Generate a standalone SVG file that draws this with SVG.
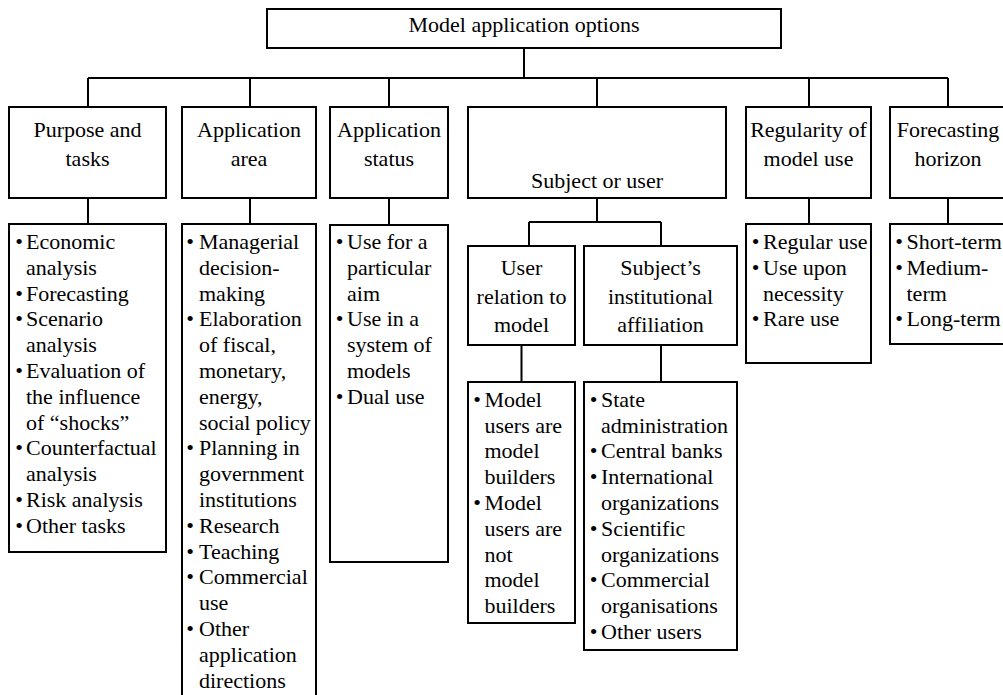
<svg xmlns="http://www.w3.org/2000/svg" width="1003" height="695" viewBox="0 0 1003 695" style="font-family: 'Liberation Serif', serif; font-size: 22px;">
  <style>
    svg text, g text { font-family: 'Liberation Serif', serif !important; font-size: 22px; fill: #000; }
    .box { fill: #fff; stroke: #000; stroke-width: 2; }
    .wire { fill: none; stroke: #000; stroke-width: 2; }
    .c { text-anchor: middle; }
    .bul { text-anchor: middle; }
  </style>
  <rect width="1003" height="695" fill="#fff"/>

  <!-- tree connectors -->
  <g id="connectors" class="wire">
    <path d="M524 48 V78 M88 78 H948"/>
    <path d="M88 78 V107 M250 78 V107 M389 78 V107 M597 78 V107 M809 78 V107 M948 78 V107"/>
    <path d="M88 198 V224 M250 198 V224 M389 198 V225 M809 198 V224 M948 198 V224"/>
    <path d="M597 198 V222 M529 222 H661 M529 222 V246 M661 222 V246"/>
    <path d="M521.5 345 V382 M661 345 V382"/>
  </g>

  <!-- top node -->
  <g id="options" font-family="Liberation Serif, serif">
    <rect class="box" x="267" y="9" width="514" height="39"/>
    <text class="c" x="524" y="32">Model application options</text>
  </g>

  <!-- first level categories -->
  <g id="purpose" font-family="Liberation Serif, serif">
    <rect class="box" x="9" y="107" width="157" height="91"/>
    <text class="c" x="87.5" y="137">Purpose and</text>
    <text class="c" x="87.5" y="166">tasks</text>
  </g>
  <g id="area" font-family="Liberation Serif, serif">
    <rect class="box" x="182" y="107" width="134" height="91"/>
    <text class="c" x="249" y="137">Application</text>
    <text class="c" x="249" y="166">area</text>
  </g>
  <g id="status" font-family="Liberation Serif, serif">
    <rect class="box" x="330" y="107" width="118" height="91"/>
    <text class="c" x="389" y="137">Application</text>
    <text class="c" x="389" y="166">status</text>
  </g>
  <g id="subject" font-family="Liberation Serif, serif">
    <rect class="box" x="468" y="107" width="258" height="91"/>
    <text class="c" x="597" y="187.5">Subject or user</text>
  </g>
  <g id="regularity" font-family="Liberation Serif, serif">
    <rect class="box" x="746" y="107" width="125" height="91"/>
    <text class="c" x="808.5" y="137">Regularity of</text>
    <text class="c" x="808.5" y="166">model use</text>
  </g>
  <g id="horizon" font-family="Liberation Serif, serif">
    <rect class="box" x="890" y="107" width="116" height="91"/>
    <text class="c" x="948" y="137">Forecasting</text>
    <text class="c" x="948" y="166">horizon</text>
  </g>

  <!-- subject / user sub-categories -->
  <g id="user-relation" font-family="Liberation Serif, serif">
    <rect class="box" x="468" y="246" width="107" height="99"/>
    <text class="c" x="521.5" y="275">User</text>
    <text class="c" x="521.5" y="304">relation to</text>
    <text class="c" x="521.5" y="332">model</text>
  </g>
  <g id="affiliation" font-family="Liberation Serif, serif">
    <rect class="box" x="584" y="246" width="153" height="99"/>
    <text class="c" x="660.5" y="275">Subject&#8217;s</text>
    <text class="c" x="660.5" y="304">institutional</text>
    <text class="c" x="660.5" y="332">affiliation</text>
  </g>

  <!-- item lists -->
  <g id="purpose-list" font-family="Liberation Serif, serif">
    <rect class="box" x="9" y="224" width="157" height="328"/>
    <text class="bul" x="19" y="249">&#8226;</text><text x="26" y="249">Economic</text>
    <text x="26" y="274.8">analysis</text>
    <text class="bul" x="19" y="300.6">&#8226;</text><text x="26" y="300.6">Forecasting</text>
    <text class="bul" x="19" y="326.4">&#8226;</text><text x="26" y="326.4">Scenario</text>
    <text x="26" y="352.2">analysis</text>
    <text class="bul" x="19" y="378">&#8226;</text><text x="26" y="378">Evaluation of</text>
    <text x="26" y="403.8">the influence</text>
    <text x="26" y="429.6">of &#8220;shocks&#8221;</text>
    <text class="bul" x="19" y="455.4">&#8226;</text><text x="26" y="455.4">Counterfactual</text>
    <text x="26" y="481.2">analysis</text>
    <text class="bul" x="19" y="507">&#8226;</text><text x="26" y="507">Risk analysis</text>
    <text class="bul" x="19" y="532.8">&#8226;</text><text x="26" y="532.8">Other tasks</text>
  </g>
  <g id="area-list" font-family="Liberation Serif, serif">
    <rect class="box" x="182" y="224" width="134" height="480"/>
    <text class="bul" x="190" y="249">&#8226;</text><text x="199" y="249">Managerial</text>
    <text x="199" y="274.8">decision-</text>
    <text x="199" y="300.6">making</text>
    <text class="bul" x="190" y="326.4">&#8226;</text><text x="199" y="326.4">Elaboration</text>
    <text x="199" y="352.2">of fiscal,</text>
    <text x="199" y="378">monetary,</text>
    <text x="199" y="403.8">energy,</text>
    <text x="199" y="429.6">social policy</text>
    <text class="bul" x="190" y="455.4">&#8226;</text><text x="199" y="455.4">Planning in</text>
    <text x="199" y="481.2">government</text>
    <text x="199" y="507">institutions</text>
    <text class="bul" x="190" y="532.8">&#8226;</text><text x="199" y="532.8">Research</text>
    <text class="bul" x="190" y="558.6">&#8226;</text><text x="199" y="558.6">Teaching</text>
    <text class="bul" x="190" y="584.4">&#8226;</text><text x="199" y="584.4">Commercial</text>
    <text x="199" y="610.2">use</text>
    <text class="bul" x="190" y="636">&#8226;</text><text x="199" y="636">Other</text>
    <text x="199" y="661.8">application</text>
    <text x="199" y="687.6">directions</text>
  </g>
  <g id="status-list" font-family="Liberation Serif, serif">
    <rect class="box" x="330" y="225" width="118" height="337"/>
    <text class="bul" x="339.5" y="249">&#8226;</text><text x="347" y="249">Use for a</text>
    <text x="347" y="274.8">particular</text>
    <text x="347" y="300.6">aim</text>
    <text class="bul" x="339.5" y="326.4">&#8226;</text><text x="347" y="326.4">Use in a</text>
    <text x="347" y="352.2">system of</text>
    <text x="347" y="378">models</text>
    <text class="bul" x="339.5" y="403.8">&#8226;</text><text x="347" y="403.8">Dual use</text>
  </g>
  <g id="user-relation-list" font-family="Liberation Serif, serif">
    <rect class="box" x="468" y="382" width="107" height="241"/>
    <text class="bul" x="477" y="406.7">&#8226;</text><text x="484.5" y="406.7">Model</text>
    <text x="484.5" y="432.5">users are</text>
    <text x="484.5" y="458.3">model</text>
    <text x="484.5" y="484.1">builders</text>
    <text class="bul" x="477" y="509.9">&#8226;</text><text x="484.5" y="509.9">Model</text>
    <text x="484.5" y="535.7">users are</text>
    <text x="484.5" y="561.5">not</text>
    <text x="484.5" y="587.3">model</text>
    <text x="484.5" y="613.1">builders</text>
  </g>
  <g id="affiliation-list" font-family="Liberation Serif, serif">
    <rect class="box" x="584" y="382" width="153" height="268"/>
    <text class="bul" x="593.5" y="406.7">&#8226;</text><text x="601" y="406.7">State</text>
    <text x="601" y="432.5">administration</text>
    <text class="bul" x="593.5" y="458.3">&#8226;</text><text x="601" y="458.3">Central banks</text>
    <text class="bul" x="593.5" y="484.1">&#8226;</text><text x="601" y="484.1">International</text>
    <text x="601" y="509.9">organizations</text>
    <text class="bul" x="593.5" y="535.7">&#8226;</text><text x="601" y="535.7">Scientific</text>
    <text x="601" y="561.5">organizations</text>
    <text class="bul" x="593.5" y="587.3">&#8226;</text><text x="601" y="587.3">Commercial</text>
    <text x="601" y="613.1">organisations</text>
    <text class="bul" x="593.5" y="638.9">&#8226;</text><text x="601" y="638.9">Other users</text>
  </g>
  <g id="regularity-list" font-family="Liberation Serif, serif">
    <rect class="box" x="746" y="224" width="125" height="139"/>
    <text class="bul" x="755.5" y="249">&#8226;</text><text x="763" y="249">Regular use</text>
    <text class="bul" x="755.5" y="274.8">&#8226;</text><text x="763" y="274.8">Use upon</text>
    <text x="763" y="300.6">necessity</text>
    <text class="bul" x="755.5" y="326.4">&#8226;</text><text x="763" y="326.4">Rare use</text>
  </g>
  <g id="horizon-list" font-family="Liberation Serif, serif">
    <rect class="box" x="890" y="224" width="116" height="120"/>
    <text class="bul" x="899" y="249">&#8226;</text><text x="906.5" y="249">Short-term</text>
    <text class="bul" x="899" y="274.8">&#8226;</text><text x="906.5" y="274.8">Medium-</text>
    <text x="906.5" y="300.6">term</text>
    <text class="bul" x="899" y="326.4">&#8226;</text><text x="906.5" y="326.4">Long-term</text>
  </g>
</svg>
